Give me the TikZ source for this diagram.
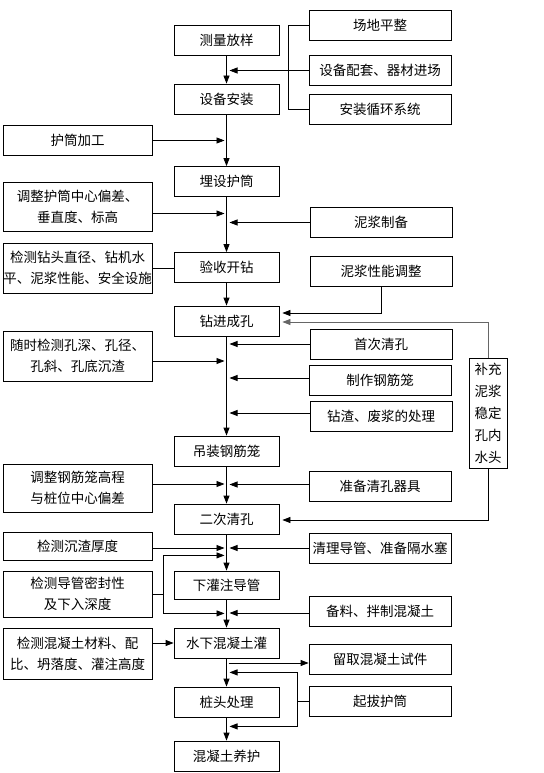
\documentclass[tikz,border=0pt]{standalone}
\usepackage{fontspec}
\setmainfont{Noto Sans CJK SC}
\usetikzlibrary{arrows.meta}

\begin{document}
\begin{tikzpicture}[x=1pt, y=-1pt, >={Triangle[length=8pt,width=6pt]}, line width=0.8pt,
  box/.style={draw, inner sep=0pt, align=center, minimum height=30pt, font=\fontsize{13.5}{21}\selectfont},
  mainbox/.style={box, minimum width=105pt},
  leftbox/.style={box, minimum width=149pt},
  rightbox/.style={box, minimum width=142pt},
  feed/.style={->, shorten >=2pt},
  grayline/.style={draw=black!60}]

\useasboundingbox (0,0) rectangle (543,773);

% Main column
\node[mainbox] (m1) at (226.5,40) {测量放样};
\node[mainbox] (m2) at (226.5,99) {设备安装};
\node[mainbox] (m3) at (226.5,181.5) {埋设护筒};
\node[mainbox] (m4) at (226.5,267.5) {验收开钻};
\node[mainbox] (m5) at (226.5,321) {钻进成孔};
\node[mainbox] (m6) at (226.5,451) {吊装钢筋笼};
\node[mainbox] (m7) at (226.5,519) {二次清孔};
\node[mainbox, minimum height=28pt] (m8) at (226.5,585) {下灌注导管};
\node[mainbox] (m9) at (226.5,643) {水下混凝土灌};
\node[mainbox] (m10) at (226.5,702) {桩头处理};
\node[mainbox] (m11) at (226.5,756) {混凝土养护};

\foreach \a/\b in {m1/m2, m2/m3, m3/m4, m4/m5, m5/m6, m6/m7, m7/m8, m8/m9, m9/m10, m10/m11}
  \draw[->] (\a.south) -- (\b.north);

% Left column
\node[leftbox] (l1) at (77.5,140.5) {护筒加工};
\node[leftbox, minimum height=49pt] (l2) at (77.5,206.5) {调整护筒中心偏差、\\垂直度、标高};
\node[leftbox, minimum height=50pt] (l3) at (77.5,268) {检测钻头直径、钻机水\\平、泥浆性能、安全设施};
\node[leftbox, minimum height=50pt] (l4) at (77.5,356) {随时检测孔深、孔径、\\孔斜、孔底沉渣};
\node[leftbox, minimum height=48pt] (l5) at (77.5,488) {调整钢筋笼高程\\与桩位中心偏差};
\node[leftbox, minimum height=28pt] (l6) at (77.5,546) {检测沉渣厚度};
\node[leftbox, minimum height=46pt] (l7) at (77.5,594) {检测导管密封性\\及下入深度};
\node[leftbox, minimum height=51pt] (l8) at (77.5,653.5) {检测混凝土材料、配\\比、坍落度、灌注高度};

\draw[feed] (l1.east) -- (l1.east -| m1.south);
\draw[feed] ([yshift=-7pt]l2.east) -- ([yshift=-7pt]l2.east -| m3.south);
\draw (l3.east) -- (l3.east -| m4.west);
\draw[feed] ([yshift=-5pt]l4.east) -- ([yshift=-5pt]l4.east -| m5.south);
\draw[feed] ([yshift=4pt]l5.east) -- ([yshift=4pt]l5.east -| m6.south);
\draw[feed] ([yshift=-2pt]l6.east) -- ([yshift=-2pt]l6.east -| m7.south);
\draw (l7.east) -- ++(11,0) coordinate (l7j);
\draw[feed] (l7j) |- ([yshift=-21pt]m7.south);
\draw[feed] (l7j) |- ([yshift=-14pt]m8.south);
\draw[->] (l8.east |- m9.west) -- (m9.west);

% Right column
\node[rightbox] (r1) at (380,25) {场地平整};
\node[rightbox] (r2) at (380,70.5) {设备配套、器材进场};
\node[rightbox] (r3) at (380,109) {安装循环系统};
\node[rightbox] (r4) at (381,222.5) {泥浆制备};
\node[rightbox] (r5) at (381,271) {泥浆性能调整};
\node[rightbox] (r6) at (381,344) {首次清孔};
\node[rightbox] (r7) at (380,380) {制作钢筋笼};
\node[rightbox] (r8) at (381,416) {钻渣、废浆的处理};
\node[rightbox] (r9) at (380,486.5) {准备清孔器具};
\node[rightbox] (r10) at (380,548) {清理导管、准备隔水塞};
\node[rightbox] (r11) at (380,611.5) {备料、拌制混凝土};
\node[rightbox] (r12) at (380,659) {留取混凝土试件};
\node[rightbox] (r13) at (380,701) {起拔护筒};
\node[box, minimum width=38pt, minimum height=110pt, font=\fontsize{13.5}{22}\selectfont] (b1) at (488,413) {补充\\泥浆\\稳定\\孔内\\水头};

\draw (r1.west) -- ++(-20,0) |- (r3.west);
\draw[->, shorten >=3pt] (r2.west) -- (r2.west -| m1.south);
\draw[->, shorten >=3pt] (r4.west) -- (r4.west -| m3.south);
\draw[->, shorten >=3pt] (r6.west) -- (r6.west -| m5.south);
\draw[->, shorten >=3pt] ([yshift=2pt]r7.west) -- ([yshift=2pt]r7.west -| m5.south);
\draw[->, shorten >=3pt] ([yshift=3pt]r8.west) -- ([yshift=3pt]r8.west -| m5.south);
\draw[->, shorten >=3pt] ([yshift=2pt]r9.west) -- ([yshift=2pt]r9.west -| m6.south);
\draw[->, shorten >=3pt] (r10.west) -- (r10.west -| m7.south);
\draw[->, shorten >=3pt] ([yshift=-1.5pt]r11.west) -- ([yshift=-1.5pt]r11.west -| m8.south);
\draw[->] ([xshift=2pt,yshift=-4pt]r12.west -| m9.south) -- ([yshift=-4pt]r12.west);
\draw (r13.west) -- ++(-11,0) coordinate (r13j);
\draw[->, shorten >=3pt] (r13j) |- ([yshift=-14pt]m9.south);
\draw[->, shorten >=3pt] (r13j) |- ([yshift=-9pt]m10.south);

% Mud feedback
\draw[->, shorten >=3pt] (r5.south) |- ([yshift=8pt]m5.east);
\draw[grayline, ->, shorten >=3pt] (b1.north) |- ([yshift=-1pt]m5.east);
\draw[->, shorten >=3pt] (b1.south) |- ([yshift=-1pt]m7.east);

\end{tikzpicture}
\end{document}
